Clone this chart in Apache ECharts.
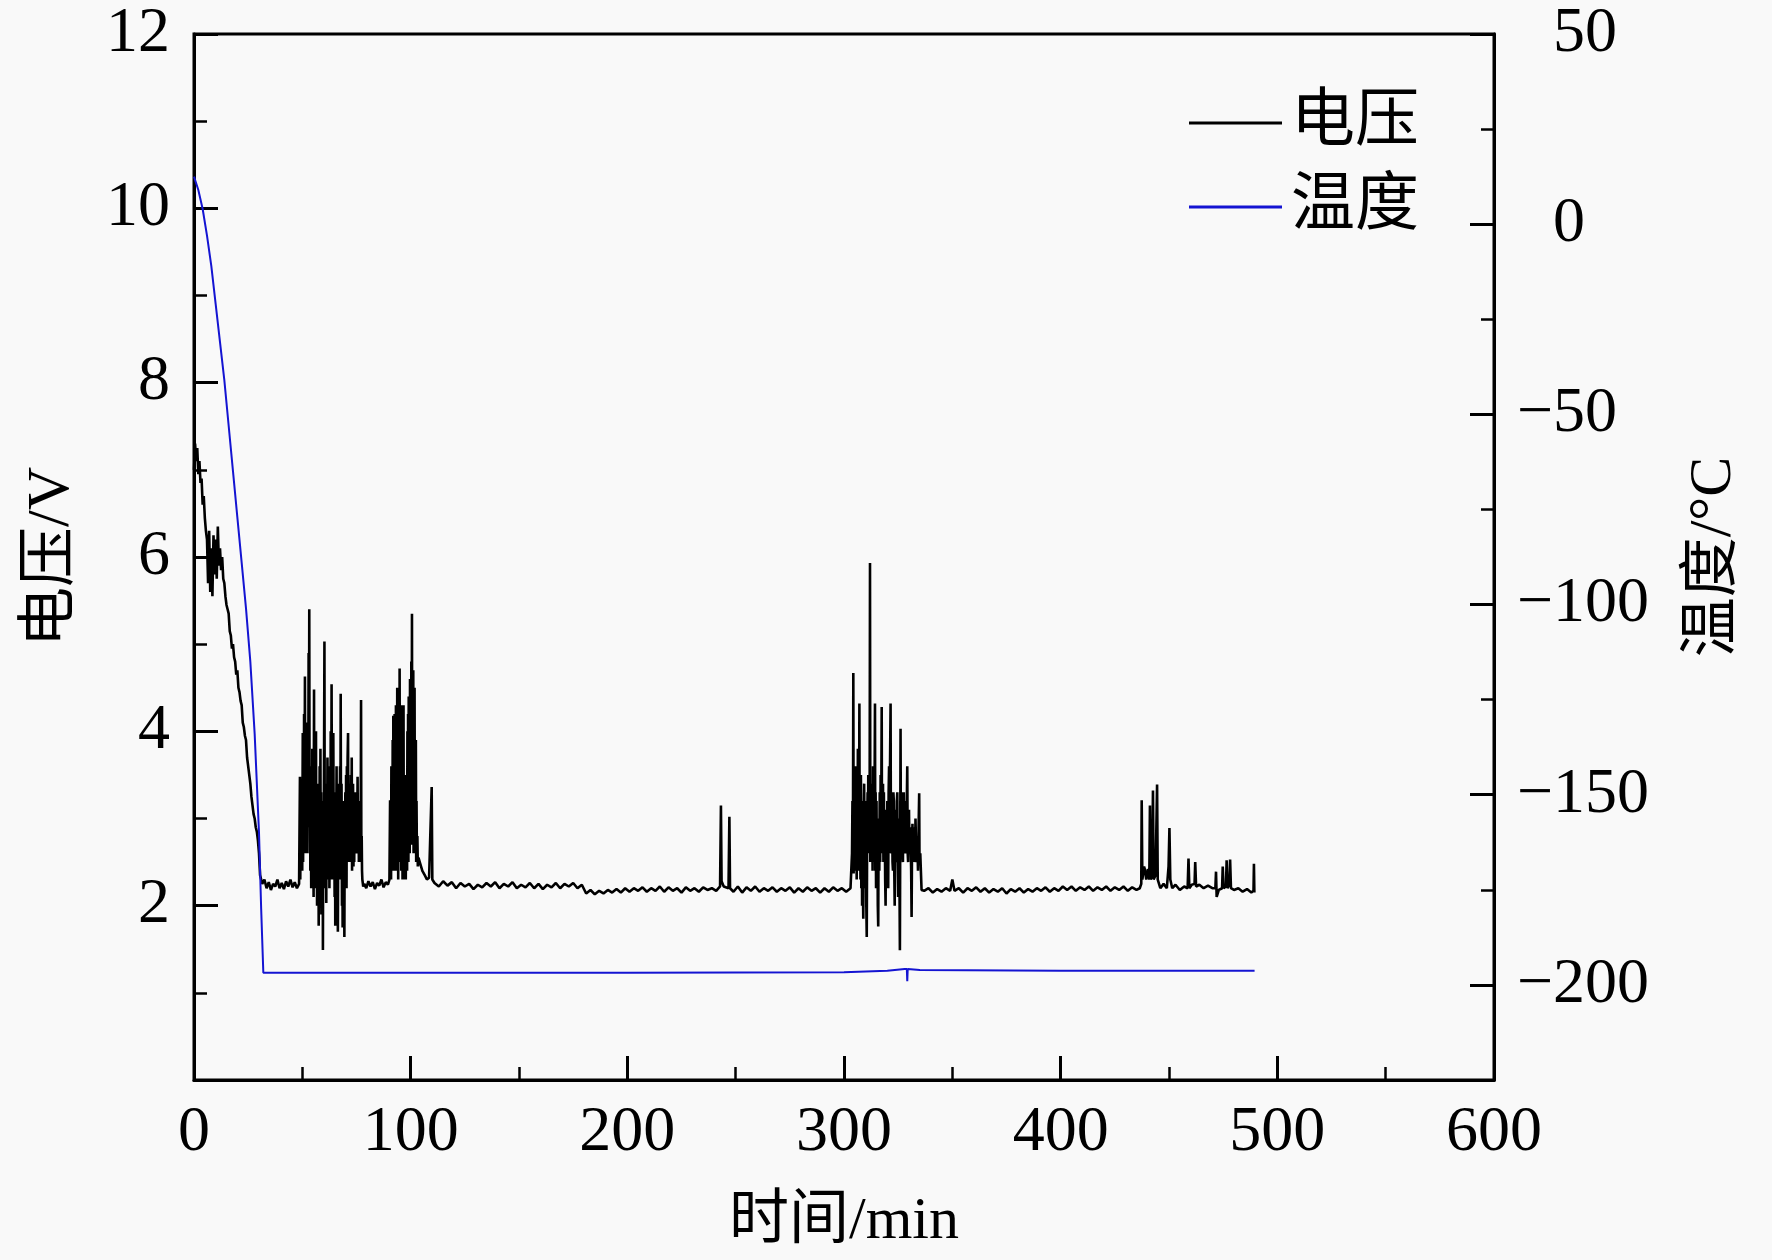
<!DOCTYPE html>
<html>
<head>
<meta charset="utf-8">
<script src="https://cdn.jsdelivr.net/npm/echarts@6/dist/echarts.min.js"></script>
<style>
    html, body { margin: 0; padding: 0; background: #f9f9f9; }
    #main { width: 1772px; height: 1260px; }
</style>
</head>
<body>
<div id="main"></div>
<script>
// voltage readings [time(min), V], split by section of the run
const coolDownVolt = [
    [0,7.0],[0.5,7.3],[1,7.1],[1.5,7.25],[2,6.95],[2.5,7.1],[3,6.85],[3.5,6.9],[4,6.6],[4.5,6.7],
    [5,6.45],[5.5,6.3],[6,6.2],[6.5,5.7],[7,6.3],[7.5,5.6],[8,6.1],[8.5,5.55],[9,6.25],[9.5,5.8],
    [10,6.2],[10.5,5.75],[11,6.35],[11.5,5.9],[12,6.1],[12.5,5.85],[13,6.0],[13.5,5.75],[14,5.7],
    [14.5,5.55],[15,5.45],[15.5,5.4],[16,5.35],[16.5,5.15],[17,5.1],[17.5,4.95],[18,5.0],[18.5,4.85],
    [19,4.8],[19.5,4.65],[20,4.7],[20.5,4.5],[21,4.45],[21.5,4.35],[22,4.3],[22.5,4.1],[23,4.05],
    [23.5,3.95],[24,3.9],[24.5,3.7],[25,3.6],[25.5,3.5],[26,3.4],[26.5,3.25],[27,3.15],[27.5,3.05],
    [28,3.0],[28.5,2.9],[29,2.85],[29.5,2.75],[30,2.6],[30.5,2.35],[31,2.3]
];
const flatVolt1 = [
    [31.5,2.25],[32.5,2.3],[33.5,2.2],[34.5,2.27],[35.5,2.18],[36.5,2.25],[37.5,2.22],[38.5,2.3],
    [39.5,2.2],[40.5,2.26],[41.5,2.19],[42.5,2.28],[43.5,2.22],[44.5,2.3],[45.5,2.21],[46.5,2.27],
    [47.5,2.2],[48.5,2.25]
];
const burstVoltA = [
    [48.9,3.48],[49.05,2.3],[49.2,2.9],[49.35,2.4],[49.5,3.2],[49.65,2.5],[49.8,3.4],[49.95,2.4],
    [50.2,3.98],[50.35,2.5],[50.5,3.7],[50.65,2.6],[50.8,4.2],[51.0,2.8],[51.2,4.63],[51.35,2.6],
    [51.5,3.9],[51.65,2.9],[51.8,3.6],[52.0,2.7],[52.2,4.1],[52.35,2.6],[52.5,3.8],[52.7,2.9],
    [52.9,4.9],[53.05,3.3],[53.2,5.4],[53.35,3.1],[53.5,3.6],[53.7,2.4],[53.9,3.3],[54.1,2.2],
    [54.3,3.5],[54.45,2.4],[54.6,3.8],[54.8,2.3],[55.0,3.6],[55.2,2.1],[55.4,4.48],[55.55,2.3],
    [55.7,3.9],[55.85,2.5],[56.0,3.5],[56.15,2.2],[56.3,4.0],[56.45,2.3],[56.6,3.4],[56.8,2.0],
    [57.0,3.3],[57.2,2.2],[57.4,3.4],[57.55,1.77],[57.7,3.0],[57.85,2.4],[58.0,3.6],[58.2,2.3],
    [58.35,3.8],[58.5,2.1],[58.65,3.3],[58.8,1.9],[59.0,3.2],[59.2,2.2],[59.4,3.0],[59.5,1.49],
    [59.65,3.1],[59.8,2.5],[60.0,3.5],[60.2,5.03],[60.35,2.6],[60.5,3.4],[60.7,2.2],[60.9,3.4],
    [61.05,2.03],[61.2,3.3],[61.4,2.4],[61.6,3.7],[61.8,2.3],[62.0,3.4],[62.15,2.5],[62.3,3.6],
    [62.5,2.2],[62.7,3.5],[62.9,2.3],[63.1,4.0],[63.3,2.6],[63.5,4.54],[63.7,2.4],[63.9,3.6],
    [64.1,2.3],[64.3,3.98],[64.5,2.4],[64.7,3.3],[64.9,2.1],[65.1,3.2],[65.2,1.77],[65.4,3.3],
    [65.6,2.4],[65.8,3.6],[66.0,2.0],[66.2,3.2],[66.4,1.7],[66.6,3.0],[66.8,2.3],[67.0,3.4],
    [67.2,2.6],[67.4,3.6],[67.55,2.5],[67.7,4.43],[67.9,2.3],[68.1,3.4],[68.3,2.0],[68.45,3.1],
    [68.6,1.75],[68.8,3.2],[69.0,2.4],[69.2,3.2],[69.4,1.64],[69.55,2.8],[69.7,2.3],[69.85,3.3],
    [70.0,2.5],[70.2,3.5],[70.4,2.2],[70.55,3.6],[70.7,2.5],[70.9,3.7],[71.1,3.98],[71.25,2.5],
    [71.4,3.4],[71.55,2.6],[71.7,3.3],[71.85,2.5],[72.0,3.4],[72.2,2.6],[72.4,3.5],[72.6,2.5],
    [72.8,3.7],[72.95,2.4],[73.1,3.3],[73.25,2.5],[73.4,3.4],[73.6,2.45],[73.8,3.3],[73.95,2.5],
    [74.1,3.3],[74.25,2.6],[74.4,3.2],[74.6,2.6],[74.8,3.3],[74.95,2.7],[75.1,3.2],[75.3,2.6],
    [75.5,3.48],[75.7,2.6],[75.9,3.2],[76.1,2.5],[76.3,3.2],[76.5,2.5],[76.7,3.1],[76.9,2.5],
    [77.1,4.36],[77.25,2.5],[77.4,2.8],[77.55,2.4],[77.7,2.3],[78.1,2.22]
];
const flatVolt2 = [
    [78.6,2.25],[79.5,2.2],[80.5,2.28],[81.5,2.22],[82.5,2.27],[83.5,2.19],[84.5,2.26],[85.5,2.23],
    [86.5,2.3],[87.5,2.21],[88.5,2.27],[89.5,2.24],[90.2,2.3]
];
const burstVoltB = [
    [90.5,3.21],[90.65,2.3],[90.8,2.9],[90.95,2.3],[91.1,3.6],[91.25,2.4],[91.4,3.2],[91.55,2.4],
    [91.7,3.9],[91.85,2.5],[92.0,4.18],[92.15,2.5],[92.3,3.8],[92.45,2.4],[92.6,4.2],[92.75,2.5],
    [92.9,3.9],[93.05,2.4],[93.2,4.3],[93.35,2.6],[93.5,4.0],[93.65,2.5],[93.8,4.5],[93.95,2.4],
    [94.1,4.1],[94.25,2.3],[94.4,4.4],[94.55,2.6],[94.7,4.2],[94.8,2.7],[94.9,4.72],[95.05,2.5],
    [95.2,4.0],[95.35,2.5],[95.5,4.3],[95.65,2.4],[95.8,3.8],[95.95,2.4],[96.1,4.0],[96.25,2.3],
    [96.4,3.6],[96.55,2.4],[96.7,4.3],[96.85,2.4],[97.0,3.4],[97.15,2.3],[97.3,3.5],[97.45,2.3],
    [97.6,3.0],[97.75,2.3],[97.9,3.2],[98.05,2.4],[98.2,3.5],[98.35,2.4],[98.5,4.0],[98.65,2.5],
    [98.8,4.2],[98.95,2.5],[99.1,4.4],[99.25,2.6],[99.4,4.3],[99.55,2.6],[99.7,4.6],[99.85,2.7],
    [100.0,4.5],[100.15,2.7],[100.3,4.8],[100.45,2.8],[100.6,5.35],[100.75,2.9],[100.9,4.4],[101.05,2.8],
    [101.2,4.7],[101.35,2.6],[101.5,4.3],[101.65,2.6],[101.8,4.5],[101.95,2.7],[102.1,3.8],[102.25,2.6],
    [102.4,3.9],[102.55,2.5],[102.7,3.2],[102.9,2.5],[103.1,2.8],[103.3,2.45],[103.6,2.55],
    [104.2,2.5],[105.4,2.4],[106.5,2.35],[107.5,2.3],[108.5,2.32],[109.4,2.3],[109.7,3.36],[110.0,2.3]
];
const flatVolt3 = [
    [111,2.26],[113,2.22],[115,2.28],[117,2.23],[119,2.27],[121,2.2],[123,2.26],[125,2.22],[127,2.25],
    [129,2.19],[131,2.24],[133,2.21],[135,2.26],[137,2.22],[139,2.27],[141,2.2],[143,2.25],[145,2.22],
    [147,2.27],[149,2.2],[151,2.24],[153,2.21],[155,2.26],[157,2.2],[159,2.25],[161,2.19],[163,2.24],
    [165,2.21],[167,2.26],[169,2.2],[171,2.25],[173,2.22],[175,2.26],[177,2.2],[179,2.24],[181,2.14],
    [183,2.18],[185,2.13],[187,2.17],[189,2.14],[191,2.18],[193,2.15],[195,2.19],[197,2.15],[199,2.2],
    [201,2.16],[203,2.2],[205,2.17],[207,2.21],[209,2.16],[211,2.2],[213,2.17],[215,2.22],[217,2.16],
    [219,2.21],[221,2.17],[223,2.2],[225,2.15],[227,2.21],[229,2.17],[231,2.2],[233,2.16],[235,2.21],
    [237,2.18],[239,2.2],[241,2.17],[242.8,2.22],[243.2,3.15],[243.5,2.28],[244.5,2.22],[246.7,2.2],
    [247.1,3.02],[247.4,2.2],[249,2.16],[251,2.22],[253,2.15],[255,2.21],[257,2.17],[259,2.22],[261,2.16],
    [263,2.2],[265,2.17],[267,2.21],[269,2.16],[271,2.2],[273,2.17],[275,2.21],[277,2.15],[279,2.2],
    [281,2.16],[283,2.21],[285,2.17],[287,2.2],[289,2.15],[291,2.2],[293,2.16],[295,2.21],[297,2.17],
    [299,2.2],[301,2.16],[303,2.2]
];
const burstVoltC = [
    [303.5,2.2],[303.7,2.6],[303.9,3.2],[304.1,2.4],[304.3,4.67],[304.45,2.37],[304.6,3.4],[304.8,2.4],
    [305.0,3.3],[305.15,2.5],[305.3,3.6],[305.5,2.4],[305.7,3.6],[305.85,2.3],[306.0,3.4],[306.2,2.4],
    [306.4,3.8],[306.55,2.6],[306.7,3.5],[306.9,2.5],[307.1,4.32],[307.25,2.4],[307.4,3.4],[307.6,2.3],
    [307.8,3.5],[308.0,2.2],[308.2,3.2],[308.35,2.0],[308.5,3.1],[308.7,2.3],[308.9,1.85],[309.1,3.0],
    [309.3,3.4],[309.5,2.2],[309.7,3.2],[309.9,2.2],[310.1,3.0],[310.3,2.0],[310.5,1.64],[310.7,2.9],
    [310.9,3.3],[311.05,2.6],[311.2,3.5],[311.4,2.8],[311.6,3.4],[311.8,2.6],[312.0,5.93],[312.15,2.5],
    [312.3,3.3],[312.5,2.6],[312.7,3.4],[312.85,2.5],[313.0,3.2],[313.2,2.4],[313.4,3.6],[313.6,2.5],
    [313.8,3.5],[314.0,2.7],[314.3,4.32],[314.45,2.4],[314.6,3.3],[314.8,2.2],[315.0,3.2],[315.2,2.3],
    [315.4,3.0],[315.6,2.0],[315.8,1.76],[315.95,2.8],[316.1,3.0],[316.3,2.4],[316.5,3.3],[316.7,2.5],
    [316.9,3.5],[317.1,2.6],[317.4,4.28],[317.55,2.6],[317.7,3.3],[317.85,2.6],[318.0,3.4],[318.2,2.5],
    [318.4,3.3],[318.6,2.56],[318.8,3.1],[319.0,2.3],[319.2,2.0],[319.4,3.0],[319.6,2.8],[319.8,2.4],
    [320.0,3.2],[320.2,2.5],[320.4,2.2],[320.6,3.3],[320.8,3.6],[321.0,2.6],[321.2,3.5],[321.5,4.32],
    [321.65,2.75],[321.8,3.2],[322.0,2.6],[322.2,3.3],[322.4,2.5],[322.6,2.4],[322.8,3.3],[323.0,3.2],
    [323.2,2.4],[323.4,2.0],[323.6,3.1],[323.8,3.0],[324.0,2.5],[324.2,2.6],[324.4,3.2],[324.6,3.3],
    [324.8,2.5],[325.0,2.1],[325.2,3.0],[325.4,3.0],[325.6,2.3],[325.8,1.49],[326.0,3.2],[326.1,4.03],
    [326.25,2.8],[326.4,3.3],[326.6,2.7],[326.8,3.14],[327.0,2.6],[327.2,2.5],[327.4,3.2],[327.6,3.3],
    [327.8,2.6],[328.0,2.7],[328.2,3.1],[328.4,3.2],[328.6,2.6],[328.8,2.6],[329.0,3.2],[329.2,3.6],
    [329.4,2.6],[329.6,2.5],[329.8,3.0],[330.0,3.1],[330.2,2.6],[330.4,2.6],[330.6,2.9],[330.8,2.9],
    [331.0,2.4],[331.2,1.87],[331.4,2.7],[331.6,2.94],[331.8,2.5],[332.0,2.5],[332.2,2.9],[332.4,2.9],
    [332.6,2.5],[332.8,2.6],[333.0,3.0],[333.2,3.0],[333.4,2.5],[333.6,2.5],[333.8,2.8],[334.0,2.8],
    [334.15,2.4],[334.3,2.4],[334.5,3.0],[334.7,3.29],[334.85,2.5],[335.0,2.5],[335.2,2.6],[335.4,2.6],
    [335.8,2.18]
];
const flatVolt4 = [
    [337,2.17],[339,2.2],[341,2.15],[343,2.19],[345,2.16],[347,2.2],[349,2.17],[350,2.3],[351,2.17],
    [353,2.2],[355,2.15],[357,2.2],[359,2.17],[361,2.21],[363,2.16],[365,2.2],[367,2.15],[369,2.19],
    [371,2.16],[373,2.2],[375,2.14],[377,2.19],[379,2.16],[381,2.2],[383,2.15],[385,2.19],[387,2.16],
    [389,2.2],[391,2.17],[393,2.21],[395,2.16],[397,2.2],[399,2.17],[401,2.22],[403,2.18],[405,2.22],
    [407,2.17],[409,2.21],[411,2.18],[413,2.22],[415,2.17],[417,2.21],[419,2.18],[421,2.22],[423,2.17],
    [425,2.21],[427,2.18],[429,2.22],[431,2.17],[433,2.21],[435,2.18],[436.5,2.2]
];
const endSpikeVolt = [
    [437.2,2.25],[437.4,3.21],[437.7,2.3],[438.5,2.45],[438.9,2.41],[439.5,2.3],[440.3,2.42],[440.9,2.3],
    [441.2,3.15],[441.5,2.3],[442.2,2.35],[442.6,3.32],[442.9,2.3],[443.8,2.35],[444.5,3.39],[444.8,2.3],
    [446,2.2],[447.5,2.25],[449,2.2],[449.8,2.45],[450.2,2.89],[450.6,2.3],[451.5,2.2],[453,2.24],
    [455,2.18],[457,2.22],[458.6,2.2],[459.0,2.54],[459.4,2.2],[460.5,2.24],[461.8,2.25],[462.1,2.5],
    [462.5,2.22],[464,2.24],[466,2.2],[468,2.23],[470,2.2],[471.4,2.2],[471.7,2.39],[472.0,2.1],[473,2.18],
    [474.5,2.2],[474.8,2.45],[475.2,2.2],[476.3,2.22],[476.6,2.52],[477.0,2.2],[477.9,2.25],[478.2,2.53],
    [478.6,2.2],[480,2.18],[482,2.2],[484,2.16],[486,2.19],[488,2.15],[489.0,2.17],[489.2,2.48],[489.4,2.15]
];

// temperature readings [time(min), °C]
const tempPoints = [
    [0,12.5],[2,9],[4,4],[6,-3],[8,-11],[10,-21],[12,-31],[14,-41],[16,-53],[18,-65],[20,-77],
    [22,-89],[24,-101],[26,-115],[28,-134],[30,-160],[31,-180],[32,-196.8],[100,-196.8],[200,-196.8],
    [300,-196.7],[320,-196.3],[328,-195.8],[329,-195.8],[329.2,-199],[329.4,-195.8],[335,-196.1],
    [400,-196.3],[489.5,-196.3]
];

const rightTicks = [-200, -150, -100, -50, 0, 50];
const rightMinorTicks = [-175, -125, -75, -25, 25];

const voltData = [].concat(coolDownVolt, flatVolt1, burstVoltA, flatVolt2, burstVoltB,
    flatVolt3, burstVoltC, flatVolt4, endSpikeVolt);

const FONT = '"Liberation Serif", "Times New Roman", "Noto Sans CJK SC", serif';
const black = '#000';

let myChart = echarts.init(document.getElementById('main'));

let option = {
    backgroundColor: '#f9f9f9',
    animation: false,
    textStyle: { fontFamily: FONT, color: black },
    grid: {
        left: 194, right: 278, top: 34, bottom: 180,
        show: true, borderColor: black, borderWidth: 3, backgroundColor: 'transparent'
    },
    legend: {
        orient: 'vertical',
        left: 1184,
        top: 86,
        itemWidth: 93,
        itemHeight: 3,
        itemGap: 20,
        icon: 'rect',
        textStyle: { fontSize: 64, color: black, fontFamily: FONT, padding: [0, 0, 0, 4] },
        data: ['电压', '温度']
    },
    xAxis: {
        type: 'value',
        min: 0, max: 600, interval: 100,
        name: '时间/min',
        nameLocation: 'middle',
        nameGap: 112,
        nameTextStyle: { fontSize: 60, color: black, fontFamily: FONT },
        axisLine: { onZero: false, lineStyle: { color: black, width: 3 } },
        axisTick: { inside: true, length: 24, lineStyle: { color: black, width: 3 } },
        minorTick: { show: true, splitNumber: 2, length: 13, lineStyle: { color: black, width: 2.5 } },
        splitLine: { show: false },
        axisLabel: { fontSize: 64, color: black, fontFamily: FONT, margin: 21 }
    },
    yAxis: [
        {
            type: 'value',
            position: 'left',
            min: 0, max: 12, interval: 2,
            name: '电压/V',
            nameLocation: 'middle',
            nameRotate: 90,
            nameGap: 112,
            nameTextStyle: { fontSize: 60, color: black, fontFamily: FONT },
            axisLine: { show: true, onZero: false, lineStyle: { color: black, width: 3 } },
            axisTick: { inside: true, length: 24, lineStyle: { color: black, width: 3 } },
            minorTick: { show: true, splitNumber: 2, length: 13, lineStyle: { color: black, width: 2.5 } },
            splitLine: { show: false },
            axisLabel: {
                fontSize: 64, color: black, fontFamily: FONT, margin: 24,
                formatter: (v) => v === 0 ? '' : String(v)
            }
        },
        {
            type: 'value',
            position: 'right',
            min: -225, max: 50,
            name: '温度/°C',
            nameLocation: 'middle',
            nameRotate: 90,
            nameGap: 190,
            nameTextStyle: { fontSize: 60, color: black, fontFamily: FONT },
            axisLine: { show: true, onZero: false, lineStyle: { color: black, width: 3 } },
            axisTick: { inside: true, length: 24, customValues: rightTicks, lineStyle: { color: black, width: 3 } },
            splitLine: { show: false },
            axisLabel: {
                fontSize: 64, color: black, fontFamily: FONT, margin: 23,
                customValues: rightTicks,
                formatter: (v) => v < 0 ? '\u2212' + Math.abs(v) : '{h|\u2212}' + v,
                rich: { h: { color: 'transparent', fontSize: 64, fontFamily: FONT } }
            }
        },
        {
            type: 'value',
            position: 'right',
            min: -225, max: 50,
            axisLine: { show: false, onZero: false },
            axisTick: { inside: true, length: 13, customValues: rightMinorTicks, lineStyle: { color: black, width: 2.5 } },
            axisLabel: { show: false },
            splitLine: { show: false }
        }
    ],
    series: [
        {
            name: '电压',
            type: 'line',
            yAxisIndex: 0,
            data: voltData,
            showSymbol: false,
            symbol: 'none',
            sampling: false,
            lineStyle: { color: black, width: 2.6 },
            itemStyle: { color: black }
        },
        {
            name: '温度',
            type: 'line',
            yAxisIndex: 1,
            data: tempPoints,
            showSymbol: false,
            symbol: 'none',
            lineStyle: { color: '#1414d2', width: 2 },
            itemStyle: { color: '#1414d2' }
        }
    ]
};

myChart.setOption(option);
</script>
</body>
</html>
